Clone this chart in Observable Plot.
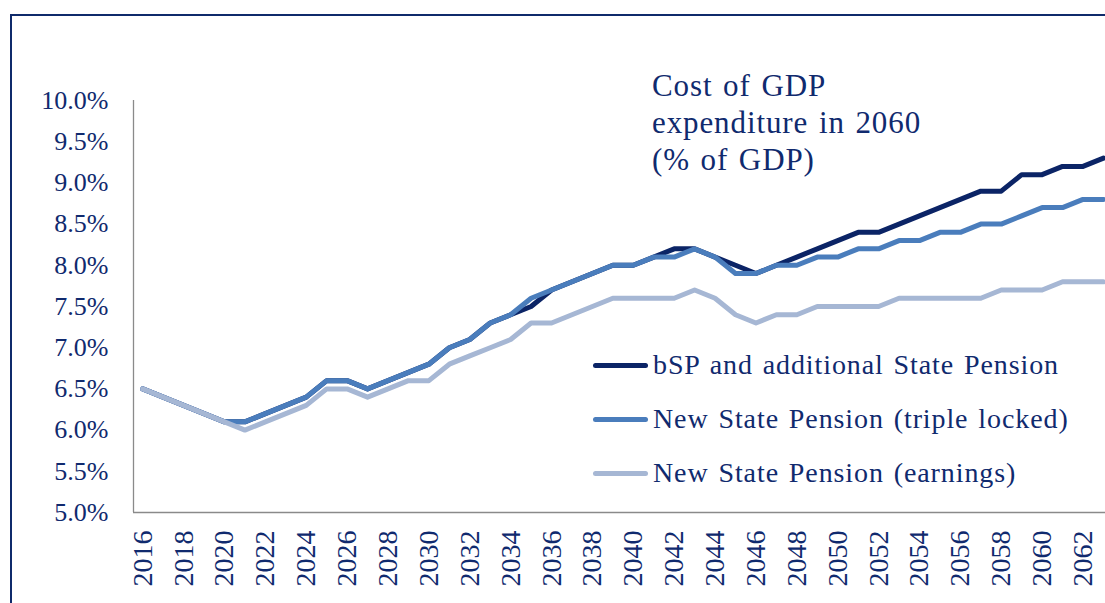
<!DOCTYPE html>
<html>
<head>
<meta charset="utf-8">
<script src="https://cdn.jsdelivr.net/npm/d3@7"></script>
<script src="https://cdn.jsdelivr.net/npm/@observablehq/plot@0.6"></script>
<style>
  html, body { margin: 0; padding: 0; background: #fff; overflow: hidden; }
  body { width: 1105px; height: 603px; position: relative; font-family: "Liberation Serif", "DejaVu Serif", serif; }
  #frame { position: absolute; left: 10px; top: 14px; width: 2000px; height: 2000px; border: 2px solid #0f2a6b; box-sizing: border-box; pointer-events: none; }
  #chart { position: absolute; left: 0; top: 0; }
  .overlay { position: absolute; color: #102a6e; }
  #title { left: 652px; top: 67px; font-size: 31px; line-height: 37px; letter-spacing: 0.9px; word-spacing: 2px; }
  #legend { left: 593px; top: 338px; font-size: 28px; letter-spacing: 0.9px; word-spacing: 2px; }
  .item { display: flex; align-items: center; height: 54px; }
  .sw { width: 55px; height: 5px; border-radius: 3px; margin-right: 5px; }
</style>
</head>
<body>
<div id="chart"></div>
<div id="frame"></div>
<div id="title" class="overlay"></div>
<div id="legend" class="overlay"></div>
<script>
const years = d3.range(2016, 2064);
const seriesNames = ["bSP and additional State Pension", "New State Pension (triple locked)", "New State Pension (earnings)"];
const seriesColors = ["#0b2466", "#4a7dbc", "#a6b7d4"];
const bspValues = [6.5,6.4,6.3,6.2,6.1, 6.1,6.2,6.3,6.4,6.6, 6.6,6.5,6.6,6.7,6.8, 7.0,7.1,7.3,7.4,7.5, 7.7,7.8,7.9,8.0,8.0, 8.1,8.2,8.2,8.1,8.0, 7.9,8.0,8.1,8.2,8.3, 8.4,8.4,8.5,8.6,8.7, 8.8,8.9,8.9,9.1,9.1, 9.2,9.2,9.3];
const tripleValues = [6.5,6.4,6.3,6.2,6.1, 6.1,6.2,6.3,6.4,6.6, 6.6,6.5,6.6,6.7,6.8, 7.0,7.1,7.3,7.4,7.6, 7.7,7.8,7.9,8.0,8.0, 8.1,8.1,8.2,8.1,7.9, 7.9,8.0,8.0,8.1,8.1, 8.2,8.2,8.3,8.3,8.4, 8.4,8.5,8.5,8.6,8.7, 8.7,8.8,8.8];
const earningsValues = [6.5,6.4,6.3,6.2,6.1, 6.0,6.1,6.2,6.3,6.5, 6.5,6.4,6.5,6.6,6.6, 6.8,6.9,7.0,7.1,7.3, 7.3,7.4,7.5,7.6,7.6, 7.6,7.6,7.7,7.6,7.4, 7.3,7.4,7.4,7.5,7.5, 7.5,7.5,7.6,7.6,7.6, 7.6,7.6,7.7,7.7,7.7, 7.8,7.8,7.8];
const yTicks = [5.0,5.5,6.0,6.5,7.0,7.5,8.0,8.5,9.0,9.5,10.0];
const xTicks = d3.range(2016, 2063, 2);
const titleLines = ["Cost of GDP", "expenditure in 2060", "(% of GDP)"];

const toRows = (vals, name) => vals.map((v, i) => ({year: years[i], value: v, series: name}));
const bspRows = toRows(bspValues, seriesNames[0]);
const tripleRows = toRows(tripleValues, seriesNames[1]);
const earnRows = toRows(earningsValues, seriesNames[2]);

const textColor = "#102a6e";
const lineStyle = {x: "year", y: "value", strokeWidth: 5, strokeLinejoin: "round", strokeLinecap: "round", clip: true};

const plot = Plot.plot({
  width: 1105,
  height: 603,
  marginLeft: 133,
  marginRight: 0,
  marginTop: 100,
  marginBottom: 91,
  style: {fontFamily: "'Liberation Serif', serif", color: textColor, background: "transparent"},
  x: {domain: [2015.55, 2063.1]},
  y: {domain: [5, 10]},
  marks: [
    Plot.ruleY([5], {stroke: "#8a8a8a", strokeWidth: 1.3}),
    Plot.ruleX([2015.55], {stroke: "#8a8a8a", strokeWidth: 1.3}),
    Plot.axisY({ticks: yTicks, tickSize: 0, tickPadding: 25, fontSize: 26, fill: textColor, tickFormat: d => d.toFixed(1) + "%", label: null}),
    Plot.axisX({ticks: xTicks, tickSize: 0, tickPadding: 18, tickRotate: -90, fontSize: 28, fill: textColor, tickFormat: d => String(d), label: null}),
    Plot.line(bspRows, {...lineStyle, stroke: seriesColors[0]}),
    Plot.line(tripleRows, {...lineStyle, stroke: seriesColors[1]}),
    Plot.line(earnRows, {...lineStyle, stroke: seriesColors[2]})
  ]
});
document.getElementById("chart").appendChild(plot);

document.getElementById("title").innerHTML = titleLines.map(t => `<div>${t}</div>`).join("");
document.getElementById("legend").innerHTML = seriesNames.map((n, i) =>
  `<div class="item"><div class="sw" style="background:${seriesColors[i]}"></div><span>${n}</span></div>`).join("");
</script>
</body>
</html>
